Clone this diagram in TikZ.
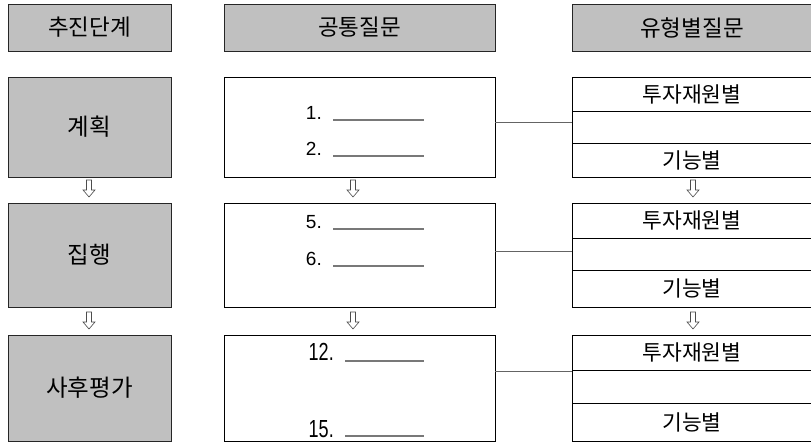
\documentclass[tikz,border=0pt]{standalone}
\usepackage{fontspec}
\setmainfont{Liberation Sans}
\newfontfamily\kr{Noto Sans CJK KR}
\usepackage{graphicx}
\definecolor{boxgray}{RGB}{192,192,192}
\definecolor{linegray}{RGB}{100,100,100}
\definecolor{ulgray}{RGB}{120,120,120}
\begin{document}
\begin{tikzpicture}[x=1pt,y=-1pt,
  graybox/.style={draw=black!85, fill=boxgray, line width=0.9pt, inner sep=0pt, outer sep=0pt, anchor=north west, minimum width=163pt, font=\kr\fontsize{22.5}{26}\selectfont},
  stagebox/.style={graybox, font=\kr\fontsize{23.5}{26}\selectfont},
  whitebox/.style={draw=black, fill=white, line width=0.9pt, inner sep=0pt, outer sep=0pt, anchor=north west, minimum width=271pt},
  cell/.style={draw=black, line width=0.9pt, inner sep=0pt, outer sep=0pt, anchor=north west, minimum width=260pt, font=\kr\fontsize{21.5}{24}\selectfont},
  num/.style={anchor=base east, inner sep=0pt, font=\fontsize{19}{21}\selectfont},
  uline/.style={draw=ulgray, line width=1.6pt},
  conn/.style={draw=linegray, line width=0.9pt},
  arrowline/.style={draw=black!70, fill=white, line width=0.6pt, line join=miter},
  downarr/.pic={\path[arrowline] (-2.5,0) -- (-2.5,10) -- (-6,10) -- (0,17) -- (6,10) -- (2.5,10) -- (2.5,0) -- cycle;}
]
\useasboundingbox (0,0) rectangle (811,443);

% headers
\node[graybox, minimum height=47pt] (h1) at (8,4) {추진단계};
\node[graybox, minimum width=271pt, minimum height=47pt] (h2) at (224,4) {공통질문};
\node[graybox, minimum width=260pt, minimum height=47pt] (h3) at (572,4) {\hspace*{-20pt}유형별질문};

% stages
\node[stagebox, minimum height=100pt] (s1) at (8,77) {계획};
\node[stagebox, minimum height=104pt] (s2) at (8,203) {집행};
\node[stagebox, minimum height=106pt] (s3) at (8,335) {사후평가};

% common questions
\node[whitebox, minimum height=100pt] (q1) at (224,77) {};
\node[whitebox, minimum height=104pt] (q2) at (224,203) {};
\node[whitebox, minimum height=106pt] (q3) at (224,335) {};

\node[num] (n1) at (322,120) {1.};
\node[num] (n2) at (322,156) {2.};
\node[num] (n5) at (322,229) {5.};
\node[num] (n6) at (322,266) {6.};
\node[num] (n12) at (334,361) {\scalebox{0.95}[1.3]{12.}};
\node[num] (n15) at (334,437) {\scalebox{0.95}[1.3]{15.}};
\draw[uline] (333,120) -- (424,120);
\draw[uline] (333,156) -- (424,156);
\draw[uline] (333,229) -- (424,229);
\draw[uline] (333,266) -- (424,266);
\draw[uline] (345,361) -- (424,361);
\draw[uline] (345,436) -- (424,436);

% type cells
\node[cell, minimum height=34pt] (r1a) at (572,77) {\hspace*{-20pt}투자재원별};
\node[cell, minimum height=32pt] (r1b) at (572,111) {};
\node[cell, minimum height=34pt] (r1c) at (572,143) {\hspace*{-20pt}기능별};
\node[cell, minimum height=35pt] (r2a) at (572,203) {\hspace*{-20pt}투자재원별};
\node[cell, minimum height=32pt] (r2b) at (572,238) {};
\node[cell, minimum height=37pt] (r2c) at (572,270) {\hspace*{-20pt}기능별};
\node[cell, minimum height=35pt] (r3a) at (572,335) {\hspace*{-20pt}투자재원별};
\node[cell, minimum height=33pt] (r3b) at (572,370) {};
\node[cell, minimum height=38pt] (r3c) at (572,403) {\hspace*{-20pt}기능별};

% connectors
\draw[conn] (q1.east |- 0,122) -- (r1b.west |- 0,122);
\draw[conn] (q2.east |- 0,251) -- (r2b.west |- 0,251);
\draw[conn] (q3.east |- 0,371) -- (r3b.west |- 0,371);

% down arrows
\pic at (89,180) {downarr};
\pic at (353,180) {downarr};
\pic at (693,180) {downarr};
\pic at (89,312) {downarr};
\pic at (353,312) {downarr};
\pic at (693,312) {downarr};
\end{tikzpicture}
\end{document}
